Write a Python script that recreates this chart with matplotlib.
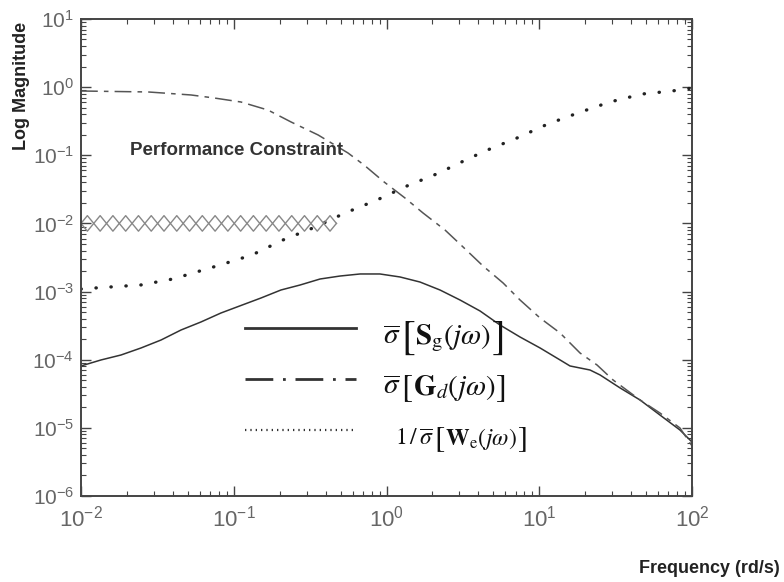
import numpy as np
import matplotlib
matplotlib.use("Agg")
import matplotlib.pyplot as plt
from matplotlib.transforms import IdentityTransform

plt.rcParams['font.family'] = ['Liberation Sans', 'DejaVu Sans']
plt.rcParams['mathtext.fontset'] = 'stix'

# singular value of S_g (solid)
freq_s = [0.01, 0.01352, 0.01828, 0.02472, 0.03342, 0.04519, 0.06095, 0.08241, 0.1114, 0.1507,
          0.2037, 0.2716, 0.3673, 0.4966, 0.6714, 0.9057, 1.225, 1.656, 2.239, 3.027,
          4.093, 5.534, 7.482, 10.12, 13.68, 15.89, 21.48, 25.00, 33.81, 45.71,
          61.66, 83.37, 100]
mag_s = [8.09e-5, 9.91e-5, 1.172e-4, 1.486e-4, 1.945e-4, 2.729e-4, 3.573e-4, 4.842e-4, 6.24e-4, 8.04e-4,
         1.054e-3, 1.247e-3, 1.528e-3, 1.690e-3, 1.811e-3, 1.811e-3, 1.637e-3, 1.380e-3, 1.054e-3, 7.52e-4,
         5.19e-4, 3.228e-4, 2.153e-4, 1.486e-4, 9.91e-5, 8.09e-5, 7.06e-5, 5.97e-5, 3.85e-5, 2.56e-5,
         1.542e-5, 9.29e-6, 6.19e-6]

# singular value of G_d (dash-dot)
freq_g = [0.01, 0.02748, 0.05248, 0.0743, 0.1114, 0.1675, 0.2371, 0.3565, 0.5598, 0.7129,
          0.9638, 1.321, 1.734, 2.415, 3.170, 4.285, 5.794, 7.482, 10.12, 13.68,
          18.49, 23.88, 30.41, 45.71, 61.66, 83.37, 100]
mag_g = [0.877, 0.849, 0.767, 0.693, 0.605, 0.461, 0.308, 0.1986, 0.1079, 0.0719,
         0.0406, 0.0236, 0.01422, 0.0080, 0.00451, 0.00237, 0.001337, 7.52e-4, 4.09e-4, 2.466e-4,
         1.253e-4, 8.36e-5, 5.04e-5, 2.56e-5, 1.65e-5, 9.95e-6, 5.42e-6]

# inverse weighting 1/W_e (dotted)
freq_w = [0.01, 0.0125, 0.0247, 0.0400, 0.0813, 0.1315, 0.210, 0.330, 0.535, 0.867,
          1.36, 2.21, 2.81, 4.42, 7.14, 11.4, 17.9, 29.0, 47.1, 74.0, 100]
mag_w = [1.09e-3, 1.13e-3, 1.25e-3, 1.53e-3, 2.45e-3, 3.44e-3, 5.71e-3, 8.57e-3, 0.0142, 0.0221,
         0.0354, 0.0550, 0.0719, 0.1156, 0.179, 0.288, 0.417, 0.605, 0.792, 0.877, 0.97]

# performance constraint band
constraint_level = 0.01
constraint_f = [0.01, 0.47]
n_diamonds = 20

fig = plt.figure(figsize=(7.84, 5.82), dpi=100)
ax = fig.add_axes([0.1033, 0.1478, 0.7794, 0.8196])

ax.plot(freq_s, mag_s, color='#333333', lw=1.1)
ax.plot(freq_g, mag_g, color='#555555', lw=1.1, dashes=(11, 4, 3, 4))
ax.plot(freq_w, mag_w, color='#222222', lw=2.4, dashes=(0.1, 4.4),
        dash_capstyle='round')

# diamond pattern: two zigzags of opposite phase
xz = np.logspace(np.log10(constraint_f[0]), np.log10(constraint_f[1]), 2 * n_diamonds + 1)
k = 1.3
odd = np.arange(xz.size) % 2 == 1
ax.plot(xz, np.where(odd, constraint_level * k, constraint_level), color='#888888', lw=1.0)
ax.plot(xz, np.where(odd, constraint_level / k, constraint_level), color='#888888', lw=1.0)

ax.set_xscale('log')
ax.set_yscale('log')
ax.set_xlim(1e-2, 1e2)
ax.set_ylim(1e-6, 1e1)

for s in ax.spines.values():
    s.set_color('#444444')
    s.set_linewidth(1.4)
ax.tick_params(which='both', direction='in', top=True, right=True, color='#444444')
ax.tick_params(which='major', length=7, width=1.0)
ax.tick_params(which='minor', length=3.5, width=0.8)
ax.tick_params(axis='x', labelsize=16, labelcolor='#666666', pad=7)
ax.tick_params(axis='y', labelsize=15, labelcolor='#666666', pad=5)
ax.yaxis.set_major_locator(matplotlib.ticker.LogLocator(base=10, numticks=10))

ax.text(0.080, 0.725, 'Performance Constraint', transform=ax.transAxes,
        fontsize=13.5, fontweight='bold', color='#333333', va='center')

# legend drawn by hand
rows = [0.352, 0.245, 0.138]
ax.plot([0.268, 0.450], [rows[0]] * 2, transform=ax.transAxes, color='#333333', lw=2.0)
ax.plot([0.268, 0.450], [rows[1]] * 2, transform=ax.transAxes, color='#333333', lw=2.0,
        dashes=(10, 3.5, 1, 3.5))
ax.plot([0.268, 0.450], [rows[2]] * 2, transform=ax.transAxes, color='#333333', lw=1.6,
        dashes=(0.6, 1.8))

renderer = fig.canvas.get_renderer()


def math_label(x, y, pieces):
    # place pieces one after another so the brackets can be larger than the text
    px, py = ax.transAxes.transform((x, y))
    for s, size, dy in pieces:
        t = ax.text(px, py + dy, s, transform=IdentityTransform(), fontsize=size,
                    va='baseline', ha='left', color='#111111')
        px = t.get_window_extent(renderer).x1 + 0.2


math_label(0.494, 0.318, [(r'$\overline{\sigma}$', 21, 0), (r'$[$', 30, -4),
                          (r'$\mathbf{S}_{\rm g}(j\omega)$', 21, 0), (r'$]$', 30, -4)])
math_label(0.494, 0.212, [(r'$\overline{\sigma}$', 21, 0), (r'$[$', 24, -2),
                          (r'$\mathbf{G}_{d}(j\omega)$', 21, 0), (r'$]$', 24, -2)])
math_label(0.514, 0.106, [(r'$1\,/\,\overline{\sigma}$', 17, 0), (r'$[$', 22, -2),
                          (r'$\mathbf{W}_{\rm e}(j\omega)$', 17, 0), (r'$]$', 22, -2)])

fig.text(0.028, 0.852, 'Log Magnitude', rotation=90, fontsize=13, fontweight='bold',
         ha='center', va='center', color='#222222')
fig.text(0.995, 0.024, 'Frequency (rd/s)', fontsize=13, fontweight='bold',
         ha='right', va='center', color='#222222')

fig.savefig('out.png', dpi=100)
